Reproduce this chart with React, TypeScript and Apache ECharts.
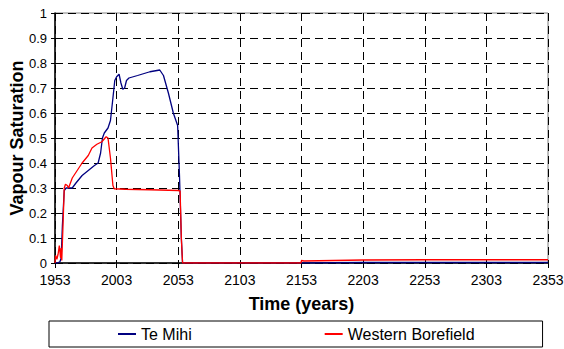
import React, { useEffect, useRef } from "react";
import * as echarts from "echarts";

const START_YEAR = 1953;
const xTickLabels = ["1953", "2003", "2053", "2103", "2153", "2203", "2253", "2303", "2353"];
const seriesNames = ["Te Mihi", "Western Borefield"];

const teMihiYears = [1953, 1955, 1957, 1958, 1959, 1960.5, 1962, 1967, 1970, 1975, 1980, 1985, 1988, 1990, 1991.5, 1993, 1996, 1998, 2000, 2001.5, 2003, 2005, 2006.5, 2008, 2009.5, 2011, 2013, 2020, 2030, 2038, 2041, 2045, 2049, 2052.5, 2054, 2055.5, 2056.5, 2153, 2203, 2353];
const teMihiValues = [0, 0, 0.005, 0.02, 0.15, 0.29, 0.3, 0.3, 0.32, 0.35, 0.37, 0.39, 0.4, 0.44, 0.5, 0.52, 0.54, 0.57, 0.66, 0.73, 0.745, 0.755, 0.72, 0.695, 0.7, 0.73, 0.74, 0.75, 0.765, 0.772, 0.75, 0.68, 0.6, 0.55, 0.35, 0.1, 0, 0, 0.002, 0.002];

const westernYears = [1953, 1953.5, 1954.5, 1955.5, 1956.5, 1957.5, 1958, 1958.5, 1959.5, 1960.5, 1961.5, 1963, 1964, 1967, 1971, 1975, 1980, 1983, 1987, 1991, 1994.5, 1996, 1998, 2000, 2001, 2010, 2030, 2053, 2054.5, 2055.5, 2056.5, 2152.5, 2153, 2155, 2203, 2253, 2353];
const westernValues = [0, 0.03, 0.015, 0.035, 0.07, 0.02, 0.06, 0.01, 0.15, 0.3, 0.315, 0.31, 0.3, 0.34, 0.37, 0.4, 0.43, 0.46, 0.475, 0.485, 0.505, 0.5, 0.42, 0.31, 0.297, 0.295, 0.293, 0.29, 0.288, 0.1, 0, 0, 0.01, 0.008, 0.012, 0.013, 0.013];

const FONT = "'Liberation Sans', Arial, sans-serif";

function toPairs(years: number[], values: number[]) {
  return years.map((y, i) => [y - START_YEAR, values[i]]);
}

export default function App() {
  const ref = useRef<HTMLDivElement>(null);
  useEffect(() => {
    if (!ref.current) return;
    const chart = echarts.init(ref.current, undefined, { renderer: "svg" });
    const dash = { color: "#000", width: 1, type: [8, 5] as any };
    chart.setOption({
      animation: false,
      backgroundColor: "#fff",
      grid: {
        left: 55,
        right: 16,
        top: 13,
        bottom: 86,
        show: true,
        borderColor: "#808080",
        borderWidth: 1,
        outerBoundsMode: "none",
        containLabel: false,
      },
      xAxis: {
        type: "value",
        min: 0,
        max: 400,
        interval: 50,
        name: "Time (years)",
        nameLocation: "middle",
        nameGap: 32,
        nameMoveOverlap: false,
        nameTextStyle: { fontFamily: FONT, fontWeight: "bold", fontSize: 18, color: "#000" },
        axisLine: { show: true, lineStyle: { color: "#000", width: 1.5 } },
        axisTick: { show: true, length: 5, lineStyle: { color: "#000" } },
        axisLabel: {
          margin: 10,
          fontFamily: FONT,
          fontSize: 14,
          color: "#000",
          formatter: (v: number) => xTickLabels[Math.round(v / 50)] ?? String(v + START_YEAR),
        },
        splitLine: { show: true, lineStyle: dash },
      },
      yAxis: {
        type: "value",
        min: 0,
        max: 1,
        interval: 0.1,
        name: "Vapour Saturation",
        nameLocation: "middle",
        nameGap: 29,
        nameMoveOverlap: false,
        nameTextStyle: { fontFamily: FONT, fontWeight: "bold", fontSize: 18, color: "#000" },
        axisLine: { show: true, lineStyle: { color: "#000", width: 1.5 } },
        axisTick: { show: true, length: 4, lineStyle: { color: "#000" } },
        axisLabel: {
          margin: 8,
          fontFamily: FONT,
          fontSize: 13,
          color: "#000",
          formatter: (v: number) => String(Math.round(v * 10) / 10),
        },
        splitLine: { show: true, lineStyle: dash },
      },
      legend: {
        left: 49,
        top: 321,
        padding: [5, 68, 5, 69],
        itemGap: 133,
        itemWidth: 18,
        itemHeight: 2,
        borderColor: "#000",
        borderWidth: 1,
        textStyle: { fontFamily: FONT, fontSize: 16, color: "#000" },
        data: seriesNames.map((n) => ({ name: n, icon: "rect" })),
      },
      series: [
        {
          name: seriesNames[0],
          type: "line",
          showSymbol: false,
          symbol: "none",
          data: toPairs(teMihiYears, teMihiValues),
          lineStyle: { color: "#000080", width: 1.3 },
          itemStyle: { color: "#000080" },
        },
        {
          name: seriesNames[1],
          type: "line",
          showSymbol: false,
          symbol: "none",
          data: toPairs(westernYears, westernValues),
          lineStyle: { color: "#ff0000", width: 1.3 },
          itemStyle: { color: "#ff0000" },
        },
      ],
    });
    return () => chart.dispose();
  }, []);
  return (
    <div style={{ position: "absolute", left: 0, top: 0 }}>
      <div ref={ref} style={{ width: 564, height: 349 }} />
    </div>
  );
}
